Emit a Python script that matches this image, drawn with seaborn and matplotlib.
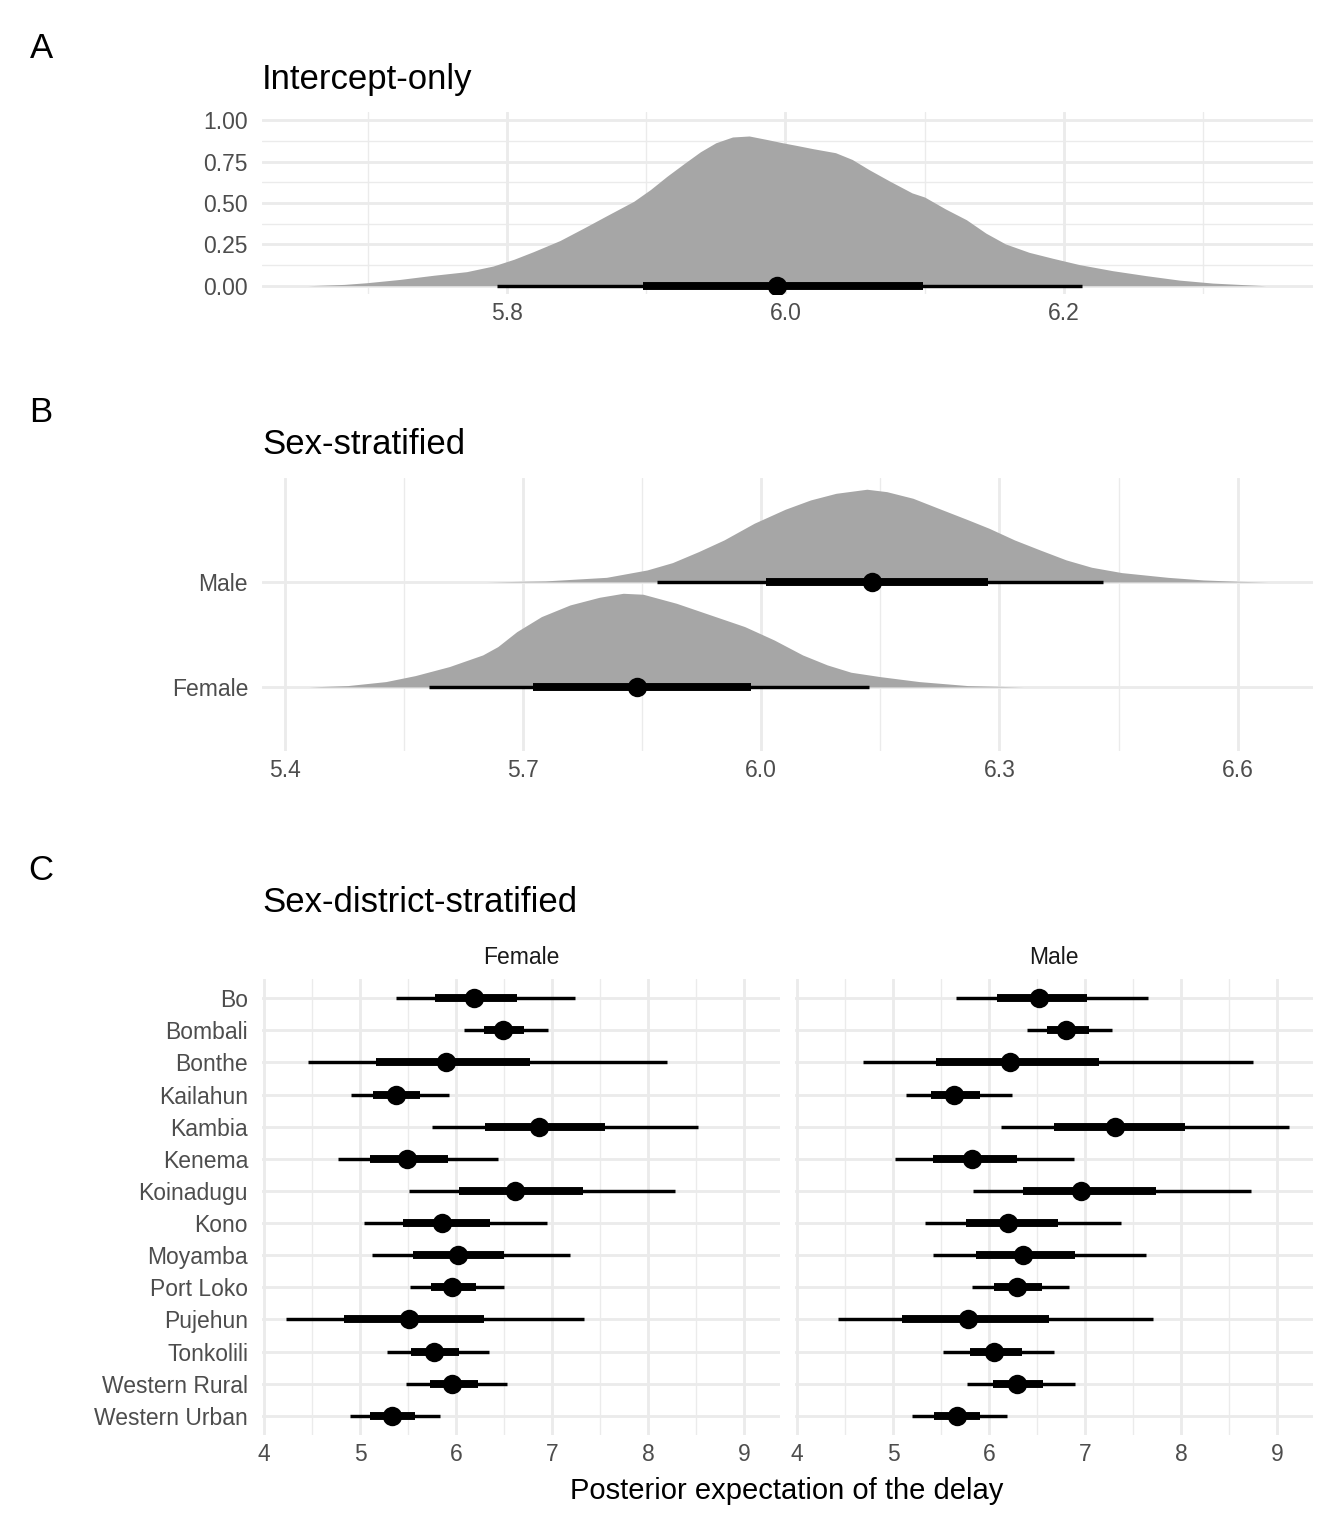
import matplotlib.pyplot as plt
import matplotlib.ticker as mticker
import pandas as pd
import seaborn as sns

# ---- data ----
# A: intercept-only posterior (x, scaled density)
a_x = [5.657, 5.683, 5.699, 5.723, 5.747, 5.771, 5.790, 5.805, 5.819, 5.838,
       5.855, 5.872, 5.891, 5.903, 5.915, 5.927, 5.939, 5.950, 5.962, 5.974,
       5.986, 5.998, 6.008, 6.020, 6.036, 6.048, 6.060, 6.075, 6.091, 6.100,
       6.115, 6.130, 6.144, 6.158, 6.175, 6.192, 6.211, 6.235, 6.259, 6.283,
       6.307, 6.345]
a_dens = [0.0, 0.008, 0.018, 0.038, 0.063, 0.085, 0.119, 0.160, 0.206, 0.273,
          0.348, 0.425, 0.510, 0.581, 0.662, 0.737, 0.810, 0.864, 0.899, 0.905,
          0.885, 0.864, 0.848, 0.828, 0.804, 0.763, 0.702, 0.632, 0.561, 0.536,
          0.464, 0.399, 0.318, 0.253, 0.202, 0.166, 0.128, 0.091, 0.061, 0.034,
          0.016, 0.0]
a_point = 5.994
a_inner = [5.898, 6.099]
a_outer = [5.793, 6.213]

# B: sex-stratified
sexes = ["Female", "Male"]
male_x = [5.654, 5.728, 5.805, 5.856, 5.888, 5.921, 5.953, 5.991, 6.030, 6.062,
          6.094, 6.133, 6.158, 6.191, 6.223, 6.261, 6.287, 6.319, 6.351, 6.384,
          6.416, 6.454, 6.512, 6.557, 6.602, 6.638]
male_dens = [0.0, 0.010, 0.044, 0.114, 0.184, 0.289, 0.400, 0.559, 0.692, 0.781,
             0.844, 0.883, 0.860, 0.797, 0.702, 0.590, 0.511, 0.400, 0.305, 0.210,
             0.140, 0.089, 0.044, 0.019, 0.006, 0.0]
female_x = [5.430, 5.479, 5.527, 5.564, 5.607, 5.649, 5.668, 5.692, 5.723, 5.759,
            5.796, 5.826, 5.851, 5.893, 5.936, 5.979, 6.016, 6.052, 6.083, 6.113,
            6.150, 6.199, 6.260, 6.330]
female_dens = [0.0, 0.013, 0.051, 0.108, 0.194, 0.305, 0.384, 0.527, 0.670, 0.781,
               0.854, 0.892, 0.883, 0.797, 0.686, 0.575, 0.448, 0.305, 0.210, 0.140,
               0.098, 0.051, 0.013, 0.0]
b_point = [5.843, 6.140]
b_inner_lo = [5.713, 6.006]
b_inner_hi = [5.987, 6.285]
b_outer_lo = [5.582, 5.869]
b_outer_hi = [6.136, 6.431]

# C: sex-district-stratified
districts = ["Bo", "Bombali", "Bonthe", "Kailahun", "Kambia", "Kenema",
             "Koinadugu", "Kono", "Moyamba", "Port Loko", "Pujehun",
             "Tonkolili", "Western Rural", "Western Urban"]
f_point = [6.182, 6.494, 5.893, 5.377, 6.869, 5.488, 6.612, 5.857, 6.018, 5.961,
           5.510, 5.771, 5.961, 5.331]
f_inner_lo = [5.785, 6.290, 5.170, 5.134, 6.297, 5.109, 6.032, 5.449, 5.556, 5.742,
              4.830, 5.531, 5.728, 5.106]
f_inner_hi = [6.637, 6.708, 6.769, 5.628, 7.549, 5.921, 7.327, 6.358, 6.504, 6.211,
              6.290, 6.029, 6.229, 5.571]
f_outer_lo = [5.374, 6.082, 4.458, 4.902, 5.750, 4.776, 5.510, 5.041, 5.123, 5.521,
              4.225, 5.281, 5.478, 4.894]
f_outer_hi = [7.238, 6.955, 8.193, 5.932, 8.515, 6.433, 8.275, 6.948, 7.184, 6.501,
              7.331, 6.343, 6.530, 5.828]
m_point = [6.520, 6.804, 6.214, 5.639, 7.314, 5.824, 6.961, 6.196, 6.349, 6.291,
           5.784, 6.054, 6.294, 5.664]
m_inner_lo = [6.079, 6.604, 5.446, 5.398, 6.673, 5.413, 6.353, 5.759, 5.865, 6.054,
              5.089, 5.799, 6.039, 5.428]
m_inner_hi = [7.019, 7.041, 7.146, 5.908, 8.039, 6.294, 7.736, 6.713, 6.895, 6.549,
              6.622, 6.342, 6.567, 5.908]
m_outer_lo = [5.653, 6.396, 4.685, 5.136, 6.127, 5.016, 5.832, 5.329, 5.417, 5.821,
              4.426, 5.522, 5.766, 5.194]
m_outer_hi = [7.660, 7.281, 8.749, 6.236, 9.128, 6.888, 8.727, 7.379, 7.631, 6.837,
              7.707, 6.680, 6.895, 6.185]

# ---- style ----
sns.set_theme(style="whitegrid")
plt.rcParams["font.family"] = ["Liberation Sans", "DejaVu Sans"]
plt.rcParams["text.color"] = "black"

GRID = "#EBEBEB"
SLAB = "#A6A6A6"
TICK_COL = "#4D4D4D"
TICK_FS = 16.5
THICK, THIN, DOT = 5.7, 2.45, 14

W, H = 1344, 1536
fig = plt.figure(figsize=(W / 100, H / 100), dpi=100)


def add_ax(x0, y0, x1, y1):
    # pixel box (top-left origin) -> figure axes
    return fig.add_axes([x0 / W, 1 - y1 / H, (x1 - x0) / W, (y1 - y0) / H])


def style_ax(ax, xminor=None, yminor=None):
    for s in ax.spines.values():
        s.set_visible(False)
    ax.set_facecolor("white")
    if xminor is not None:
        ax.xaxis.set_minor_locator(mticker.FixedLocator(xminor))
    if yminor is not None:
        ax.yaxis.set_minor_locator(mticker.FixedLocator(yminor))
    ax.grid(True, which="major", color=GRID, lw=2.05)
    ax.grid(True, which="minor", color=GRID, lw=1.0)
    ax.set_axisbelow(True)
    ax.tick_params(which="both", length=0, labelsize=TICK_FS, labelcolor=TICK_COL)
    ax.tick_params(axis="x", pad=6)
    ax.tick_params(axis="y", pad=10)
    ax.set_xlabel("")
    ax.set_ylabel("")


def interval(ax, y, pt, ilo, ihi, olo, ohi):
    ax.hlines(y, olo, ohi, color="black", lw=THIN, zorder=3)
    ax.hlines(y, ilo, ihi, color="black", lw=THICK, zorder=4)
    sns.scatterplot(x=pt, y=y, ax=ax, color="black", s=DOT ** 2,
                    linewidth=0, zorder=5, legend=False)


# ---- A ----
axA = add_ax(262, 112, 1313, 294)
axA.fill_between(a_x, 0, a_dens, color=SLAB, lw=0, zorder=2)
interval(axA, [0], [a_point], a_inner[0], a_inner[1], a_outer[0], a_outer[1])
axA.set_xlim(5.624, 6.379)
axA.set_ylim(-0.05, 1.05)
axA.set_xticks([5.8, 6.0, 6.2])
axA.set_yticks([0, 0.25, 0.5, 0.75, 1.0])
axA.set_yticklabels(["0.00", "0.25", "0.50", "0.75", "1.00"])
style_ax(axA, xminor=[5.7, 5.9, 6.1, 6.3], yminor=[0.125, 0.375, 0.625, 0.875])

# ---- B ----
axB = add_ax(262, 478, 1313, 751)
for i, (xs, ds) in enumerate([(female_x, female_dens), (male_x, male_dens)]):
    base = i + 1
    axB.fill_between(xs, base, [base + d for d in ds], color=SLAB, lw=0, zorder=2)
for i in range(2):
    interval(axB, [i + 1], [b_point[i]], b_inner_lo[i], b_inner_hi[i],
             b_outer_lo[i], b_outer_hi[i])
axB.set_xlim(5.371, 6.695)
axB.set_ylim(0.39, 2.99)
axB.set_xticks([5.4, 5.7, 6.0, 6.3, 6.6])
axB.set_yticks([1, 2])
axB.set_yticklabels(sexes)
style_ax(axB, xminor=[5.55, 5.85, 6.15, 6.45])

# ---- C ----
rows = list(range(1, len(districts) + 1))
panels = [
    ("Female", 262, 780, f_point, f_inner_lo, f_inner_hi, f_outer_lo, f_outer_hi),
    ("Male", 795, 1313, m_point, m_inner_lo, m_inner_hi, m_outer_lo, m_outer_hi),
]
for k, (name, x0, x1, pt, ilo, ihi, olo, ohi) in enumerate(panels):
    ax = add_ax(x0, 979, x1, 1435)
    df = pd.DataFrame({"row": rows, "pt": pt, "ilo": ilo, "ihi": ihi,
                       "olo": olo, "ohi": ohi})
    ax.hlines(df["row"], df["olo"], df["ohi"], color="black", lw=THIN, zorder=3)
    ax.hlines(df["row"], df["ilo"], df["ihi"], color="black", lw=THICK, zorder=4)
    sns.scatterplot(data=df, x="pt", y="row", ax=ax, color="black", s=DOT ** 2,
                    linewidth=0, zorder=5, legend=False)
    ax.set_xlim(3.98, 9.373)
    ax.set_ylim(len(districts) + 0.6, 0.4)
    ax.set_xticks([4, 5, 6, 7, 8, 9])
    ax.set_yticks(rows)
    if k == 0:
        ax.set_yticklabels(districts)
    else:
        ax.set_yticklabels([])
    style_ax(ax, xminor=[4.5, 5.5, 6.5, 7.5, 8.5])
    fig.text((x0 + x1) / 2 / W, 1 - 958 / H, name, ha="center", va="center",
             fontsize=TICK_FS, color="#1A1A1A")

fig.text(787 / W, 1 - 1491 / H, "Posterior expectation of the delay",
         ha="center", va="center", fontsize=21, color="black")

# ---- titles and tags ----
for tag, title, ty, tt in [("A", "Intercept-only", 48, 80),
                           ("B", "Sex-stratified", 413, 445),
                           ("C", "Sex-district-stratified", 871, 902)]:
    fig.text(41 / W, 1 - ty / H, tag, ha="center", va="center", fontsize=25,
             color="black")
    fig.text(262 / W, 1 - tt / H, title, ha="left", va="center", fontsize=25,
             color="black")

fig.savefig("out.png", dpi=100, facecolor="white")
